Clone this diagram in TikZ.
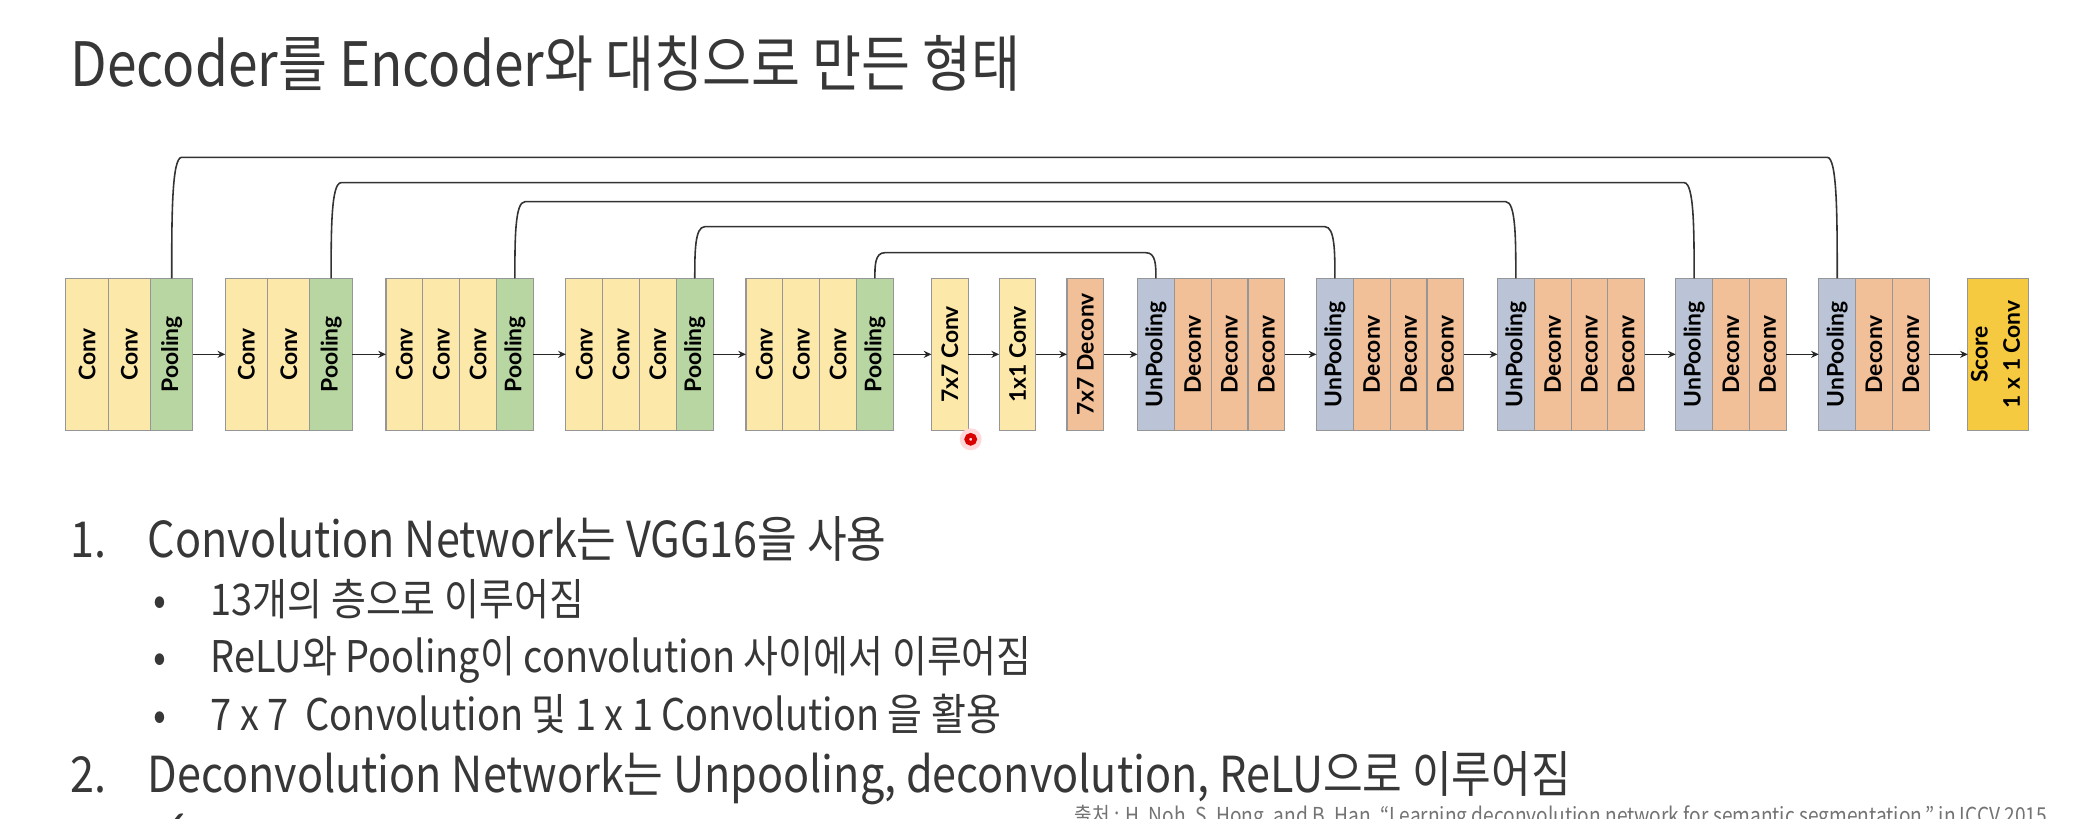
\documentclass[tikz,border=0pt]{standalone}
\usepackage{fontspec}
\usepackage{graphicx}
\usepackage{tikz}
\usetikzlibrary{arrows.meta, positioning, calc}
\usepackage{xcolor}

\newfontfamily\slidefont[FakeStretch=0.87]{Noto Sans CJK KR}
\newfontfamily\boxfont{Lato}
\newfontfamily\symfont{DejaVu Sans}

\definecolor{convc}{RGB}{252,233,170}
\definecolor{poolc}{RGB}{183,214,161}
\definecolor{deconvc}{RGB}{241,191,152}
\definecolor{unpoolc}{RGB}{187,196,214}
\definecolor{scorec}{RGB}{245,201,64}
\definecolor{boxline}{RGB}{150,150,150}
\definecolor{textc}{RGB}{55,55,55}

% vertical label inside a layer box
\newcommand{\vt}[1]{\rotatebox{90}{#1}}
% skip connection from a pooling layer to its unpooling layer (#3 = rise)
\newcommand{\skiplink}[3]{%
  \draw[skip] (#1.north) .. controls +(0,-0.5*#3) and +(-10,0) .. ++(10,-#3)
    -- ($(#2.north)+(-10,-#3)$) .. controls +(10,0) and +(0,-0.5*#3) .. (#2.north);}

\begin{document}
\begin{tikzpicture}[
        x=0.01cm, y=-0.01cm,
        col/.style={draw=boxline, line width=0.3pt, minimum height=15.2mm, minimum width=3.68mm,
                    inner sep=0pt, outer sep=0pt, font=\boxfont\bfseries\fontsize{6.5pt}{8pt}\selectfont},
        wide/.style={minimum width=4.23mm},
        conv/.style={col, fill=convc},
        pool/.style={col, fill=poolc},
        deconv/.style={col, fill=deconvc},
        unpool/.style={col, fill=unpoolc},
        score/.style={col, fill=scorec, minimum width=5.78mm},
        flow/.style={-{Stealth[length=2.2pt, width=2pt]}, line width=0.45pt, black!85},
        skip/.style={line width=0.45pt, black!80},
        txt/.style={anchor=base west, inner sep=0pt, text=textc},
        big/.style={txt, font=\slidefont\fontsize{17.4pt}{20pt}\selectfont},
        lvlone/.style={txt, font=\slidefont\fontsize{14.1pt}{17pt}\selectfont},
        lvltwo/.style={txt, font=\slidefont\fontsize{12.4pt}{15pt}\selectfont}
    ]
        \fill[white] (0,0) rectangle (2088,818);
        \useasboundingbox (0,0) rectangle (2088,818);

        % Title
        \node (ttl) [big] at (70,86) {Decoder를 Encoder와 대칭으로 만든 형태};

        % Encoder
        \node (b1c1) [conv, wide, anchor=north west] at (65.9,278.3) {\vt{Conv}};
        \node (b1c2) [conv, wide, right=0pt of b1c1] {\vt{Conv}};
        \node (p1) [pool, wide, right=0pt of b1c2] {\vt{Pooling}};

        \node (b2c1) [conv, wide, anchor=north west] at (225.3,278.3) {\vt{Conv}};
        \node (b2c2) [conv, wide, right=0pt of b2c1] {\vt{Conv}};
        \node (p2) [pool, wide, right=0pt of b2c2] {\vt{Pooling}};

        \node (b3c1) [conv, anchor=north west] at (386,278.3) {\vt{Conv}};
        \node (b3c2) [conv, right=0pt of b3c1] {\vt{Conv}};
        \node (b3c3) [conv, right=0pt of b3c2] {\vt{Conv}};
        \node (p3) [pool, right=0pt of b3c3] {\vt{Pooling}};

        \node (b4c1) [conv, anchor=north west] at (565.9,278.3) {\vt{Conv}};
        \node (b4c2) [conv, right=0pt of b4c1] {\vt{Conv}};
        \node (b4c3) [conv, right=0pt of b4c2] {\vt{Conv}};
        \node (p4) [pool, right=0pt of b4c3] {\vt{Pooling}};

        \node (b5c1) [conv, anchor=north west] at (746,278.3) {\vt{Conv}};
        \node (b5c2) [conv, right=0pt of b5c1] {\vt{Conv}};
        \node (b5c3) [conv, right=0pt of b5c2] {\vt{Conv}};
        \node (p5) [pool, right=0pt of b5c3] {\vt{Pooling}};

        % Fully convolutional part
        \node (fc7) [conv, anchor=north west] at (931.5,278.3) {\vt{7x7 Conv}};
        \node (fc1) [conv, anchor=north west] at (999.1,278.3) {\vt{1x1 Conv}};
        \node (dc7) [deconv, anchor=north west] at (1067,278.3) {\vt{7x7 Deconv}};

        % Decoder
        \node (u1) [unpool, anchor=north west] at (1137.5,278.3) {\vt{UnPooling}};
        \node (d1a) [deconv, right=0pt of u1] {\vt{Deconv}};
        \node (d1b) [deconv, right=0pt of d1a] {\vt{Deconv}};
        \node (d1c) [deconv, right=0pt of d1b] {\vt{Deconv}};

        \node (u2) [unpool, anchor=north west] at (1316.5,278.3) {\vt{UnPooling}};
        \node (d2a) [deconv, right=0pt of u2] {\vt{Deconv}};
        \node (d2b) [deconv, right=0pt of d2a] {\vt{Deconv}};
        \node (d2c) [deconv, right=0pt of d2b] {\vt{Deconv}};

        \node (u3) [unpool, anchor=north west] at (1497.4,278.3) {\vt{UnPooling}};
        \node (d3a) [deconv, right=0pt of u3] {\vt{Deconv}};
        \node (d3b) [deconv, right=0pt of d3a] {\vt{Deconv}};
        \node (d3c) [deconv, right=0pt of d3b] {\vt{Deconv}};

        \node (u4) [unpool, anchor=north west] at (1675.7,278.3) {\vt{UnPooling}};
        \node (d4a) [deconv, right=0pt of u4] {\vt{Deconv}};
        \node (d4b) [deconv, right=0pt of d4a] {\vt{Deconv}};

        \node (u5) [unpool, anchor=north west] at (1818.8,278.3) {\vt{UnPooling}};
        \node (d5a) [deconv, right=0pt of u5] {\vt{Deconv}};
        \node (d5b) [deconv, right=0pt of d5a] {\vt{Deconv}};

        \node (out) [score, anchor=north west] at (1967.8,278.3)
            {\vt{\begin{tabular}{@{}c@{}}Score\\[1.2pt]1 x 1 Conv\end{tabular}}};

        % Forward arrows
        \draw[flow] (p1) -- (b2c1);
        \draw[flow] (p2) -- (b3c1);
        \draw[flow] (p3) -- (b4c1);
        \draw[flow] (p4) -- (b5c1);
        \draw[flow] (p5) -- (fc7);
        \draw[flow] (fc7) -- (fc1);
        \draw[flow] (fc1) -- (dc7);
        \draw[flow] (dc7) -- (u1);
        \draw[flow] (d1c) -- (u2);
        \draw[flow] (d2c) -- (u3);
        \draw[flow] (d3c) -- (u4);
        \draw[flow] (d4b) -- (u5);
        \draw[flow] (d5b) -- (out);

        % Pooling -> UnPooling links
        \skiplink{p1}{u5}{121}
        \skiplink{p2}{u4}{95.6}
        \skiplink{p3}{u3}{76.6}
        \skiplink{p4}{u2}{51.6}
        \skiplink{p5}{u1}{25.6}

        % cursor mark
        \fill[red!15] (970.7,439.3) circle (11);
        \draw[red!85!black, line width=1.3pt] (970.7,439.3) circle (4);

        % Notes
        \node (n1) [lvlone] at (70,557) {1.};
        \node (item1) [lvlone] at (147,557) {Convolution Network는 VGG16을 사용};
        \node (dot1) [lvltwo] at (153,615) {•};
        \node (sub1) [lvltwo] at (210,615) {13개의 층으로 이루어짐};
        \node (dot2) [lvltwo] at (153,672) {•};
        \node (sub2) [lvltwo] at (210,672) {ReLU와 Pooling이 convolution 사이에서 이루어짐};
        \node (dot3) [lvltwo] at (153,730) {•};
        \node (sub3) [lvltwo] at (210,730) {7 x 7\ \ Convolution 및 1 x 1 Convolution 을 활용};
        \node (n2) [lvlone] at (70,792) {2.};
        \node (item2) [lvlone] at (147,792) {Deconvolution Network는 Unpooling, deconvolution, ReLU으로 이루어짐};
        \node (tick) [txt, font=\symfont\fontsize{12pt}{14pt}\selectfont] at (155,840) {✓};
        \node (src) [txt, text=black!55, font=\slidefont\fontsize{6.25pt}{7.5pt}\selectfont] at (1074,823)
            {출처 : H. Noh, S. Hong, and B. Han, “Learning deconvolution network for semantic segmentation,” in ICCV 2015};

    \end{tikzpicture}
\end{document}
